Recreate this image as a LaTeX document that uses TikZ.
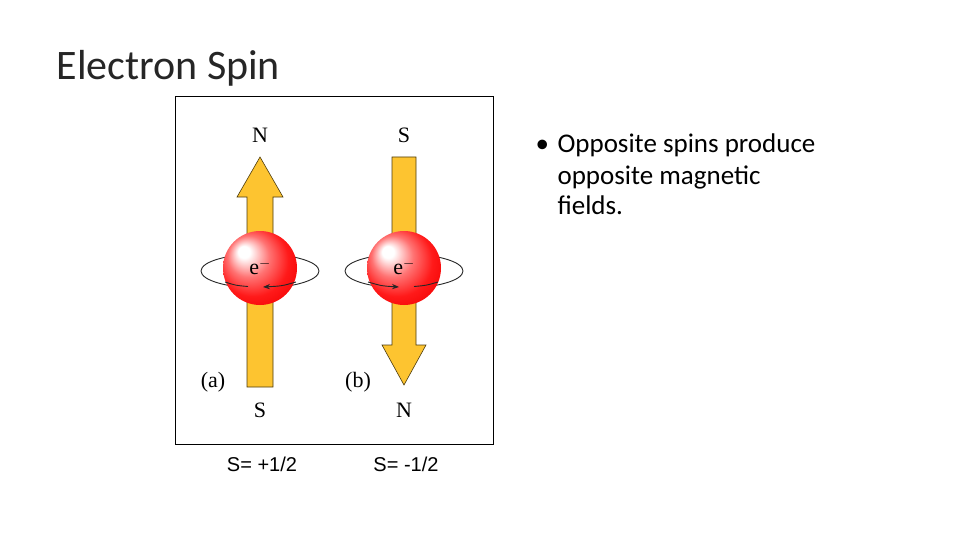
\documentclass[tikz,border=0pt]{standalone}
\usepackage{fontspec}
\setmainfont{Carlito}
\newfontfamily\tms{Liberation Serif}
\newfontfamily\arl{Liberation Sans}
\usetikzlibrary{arrows.meta}
\definecolor{arrowy}{RGB}{253,196,48}
\pgfdeclareradialshading{redball}{\pgfpoint{-12bp}{12bp}}{%
  color(0bp)=(white); color(4bp)=(white); color(14bp)=(red!55!white);
  color(24bp)=(red!90!white); color(34bp)=(red!95!black); color(40bp)=(red!80!black)}
\begin{document}
\begin{tikzpicture}[x=1pt,y=-1pt,
  fig/.style={font=\tms\fontsize{22}{24}\selectfont},
  orb/.style={black!85,line width=0.9pt},
  bl/.style={anchor=base west,font=\fontsize{27}{31}\selectfont},
  yarrow/.style={fill=arrowy,draw=black!70!arrowy,line width=0.6pt}]
\useasboundingbox (0,0) rectangle (960,540);
\node[anchor=base west,font=\fontsize{42}{46}\selectfont,text=black!85] (title) at (53,80) {Electron Spin};
\draw[line width=0.8pt] (175,96) rectangle (493,444);
% arrows
\draw[yarrow] (247,387) -- (247,197) -- (237,197) -- (260,157) -- (283,197) -- (273,197) -- (273,387) -- cycle;
\draw[yarrow] (392,157) -- (392,345) -- (382,345) -- (404,385) -- (426,345) -- (416,345) -- (416,157) -- cycle;
% orbits back
\foreach \cx in {260,404}{
  \draw[orb] (\cx,271) ellipse [x radius=59, y radius=17];
  \shade[shading=redball] (\cx,268) circle (37);
}
\node[fig] (ea) at (260,267) {e$^{-}$};
\node[fig] (eb) at (404,267) {e$^{-}$};
% front arcs
\draw[orb] (225,282) .. controls (236,285.5) .. (248,286.5);
\draw[orb,-{Stealth[length=7pt]}] (296,282) .. controls (282,286) .. (263,287);
\draw[orb,-{Stealth[length=7pt]}] (368,282) .. controls (382,286) .. (399,287);
\draw[orb] (414,286.5) .. controls (426,285.5) .. (438,282);
\node[fig] (na) at (260,135) {N};
\node[fig] (sa) at (260,410) {S};
\node[fig] (sb) at (404,135) {S};
\node[fig] (nb) at (404,410) {N};
\node[fig] (la) at (213,382) {(a)};
\node[fig] (lb) at (358,382) {(b)};
\node[font=\arl\fontsize{20}{24}\selectfont] (sp) at (262,464) {S= +1/2};
\node[font=\arl\fontsize{20}{24}\selectfont] (sm) at (406,464) {S= -1/2};
\node[bl] (b1) at (532,153) {\textbullet};
\node[bl] (l1) at (554,153) {Opposite spins produce};
\node[bl] (l2) at (554,184) {opposite magnetic};
\node[bl] (l3) at (554,214) {fields.};
\end{tikzpicture}
\end{document}
